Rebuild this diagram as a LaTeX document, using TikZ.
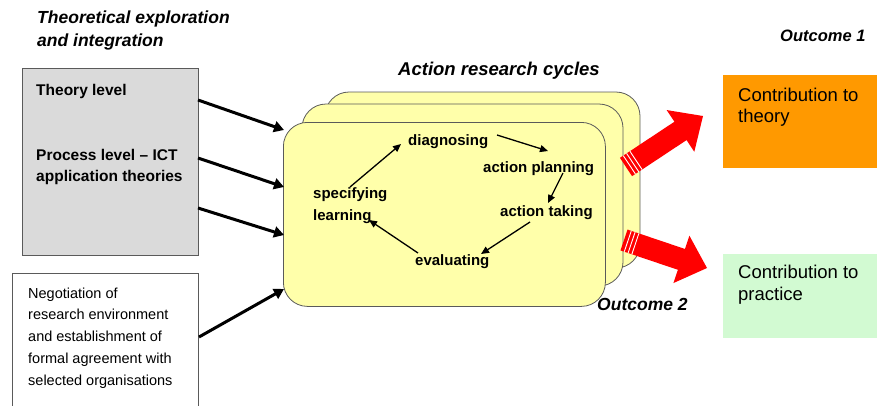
\documentclass[tikz,border=0pt]{standalone}
\usepackage{fontspec}
\setmainfont{Liberation Sans}
\usetikzlibrary{calc,arrows.meta}
\definecolor{cardyellow}{RGB}{255,255,170}
\definecolor{cardedge}{RGB}{90,90,90}
\definecolor{boxgray}{RGB}{218,218,218}
\definecolor{outorange}{RGB}{255,153,0}
\definecolor{outgreen}{RGB}{210,250,210}
\definecolor{outred}{RGB}{255,0,0}
\newcommand\redblockarrow[2]{%
  \coordinate (#1-hb) at ($(#2)!27pt!(#1)$);
  \fill[outred] ($(#1)!11pt!90:(#2)$) -- ($(#1-hb)!11pt!90:(#2)$) -- ($(#1-hb)!25pt!90:(#2)$) -- (#2)
     -- ($(#1-hb)!25pt!-90:(#2)$) -- ($(#1-hb)!11pt!-90:(#2)$) -- ($(#1)!11pt!-90:(#2)$) -- cycle;
  \foreach \dd in {4,8,12}{%
    \coordinate (#1-s) at ($(#1)!\dd pt!(#2)$);
    \draw[white, line width=0.9pt] ($(#1-s)!11pt!90:(#2)$) -- ($(#1-s)!11pt!-90:(#2)$);
  }%
}
\begin{document}
\begin{tikzpicture}[x=1pt,y=-1pt,
  card/.style={draw=cardedge, line width=0.8pt, fill=cardyellow, rounded corners=24pt},
  ttl/.style={font=\fontsize{16.5}{23}\selectfont\bfseries\itshape, anchor=base west, inner sep=0pt, align=left},
  boxlbl/.style={font=\fontsize{15.5}{21}\selectfont\bfseries, anchor=base west, inner sep=0pt, align=left},
  cyc/.style={font=\fontsize{15}{22}\selectfont\bfseries, anchor=base west, inner sep=0pt, align=left},
  thick arrow/.style={line width=3pt, -{Triangle[length=10pt,width=11pt]}},
  thin arrow/.style={line width=1.3pt, -{Triangle[length=8pt,width=7pt]}},
]
\useasboundingbox (0,0) rectangle (879,405);

% titles (multi-line nodes: base = last line)
\node[ttl, font=\fontsize{17.5}{23}\selectfont\bfseries\itshape] (t1) at (37,46) {Theoretical exploration\\and integration};
\node[ttl, font=\fontsize{18.5}{23}\selectfont\bfseries\itshape] (t2) at (398,75) {Action research cycles};
\node[ttl] (t3) at (780,41) {Outcome 1};
\node[ttl, font=\fontsize{17.5}{23}\selectfont\bfseries\itshape] (t4) at (597,310) {Outcome 2};

% left boxes
\node[draw=cardedge, line width=1pt, fill=boxgray, minimum width=176pt, minimum height=187pt, anchor=north west, inner sep=0pt] (gray) at (22,68) {};
\node[boxlbl] (th) at (36,95) {Theory level};
\node[boxlbl] (pr) at (36,181) {Process level -- ICT\\application theories};

\node[draw=cardedge, line width=1pt, fill=white, minimum width=186pt, minimum height=140pt, anchor=north west, inner sep=0pt] (neg) at (12,273) {};
\node[font=\fontsize{14.5}{21.7}\selectfont, anchor=base west, inner sep=0pt, align=left] (negt) at (28,385)
  {Negotiation of\\research environment\\and establishment of\\formal agreement with\\selected organisations};

% cards
\draw[card] (325,92) rectangle (640,268);
\draw[card] (302,104) rectangle (623,286);
\node[card, minimum width=322pt, minimum height=184pt, anchor=north west, inner sep=0pt] (front) at (283,122) {};

% cycle labels
\node[cyc] (diag) at (408,145) {diagnosing};
\node[cyc] (plan) at (483,172) {action planning};
\node[cyc] (take) at (500,216) {action taking};
\node[cyc] (eval) at (415,265) {evaluating};
\node[cyc] (spec) at (313,220) {specifying\\learning};

% cycle arrow end points
\coordinate (c1a) at (497,135); \coordinate (c1b) at (548,151);
\coordinate (c2a) at (563,173); \coordinate (c2b) at (548,203);
\coordinate (c3a) at (530,222); \coordinate (c3b) at (481,254);
\coordinate (c4a) at (418,253); \coordinate (c4b) at (369,220);
\coordinate (c5a) at (350,187); \coordinate (c5b) at (401,144);
\draw[thin arrow] (c1a) -- (c1b);
\draw[thin arrow] (c2a) -- (c2b);
\draw[thin arrow] (c3a) -- (c3b);
\draw[thin arrow] (c4a) -- (c4b);
\draw[thin arrow] (c5a) -- (c5b);

% input arrows
\coordinate (i1a) at (198,100); \coordinate (i1b) at (284,130);
\coordinate (i2a) at (198,158); \coordinate (i2b) at (284,187);
\coordinate (i3a) at (198,208); \coordinate (i3b) at (284,235);
\coordinate (i4a) at (199,337); \coordinate (i4b) at (284,289);
\draw[thick arrow] (i1a) -- (i1b);
\draw[thick arrow] (i2a) -- (i2b);
\draw[thick arrow] (i3a) -- (i3b);
\draw[thick arrow] (i4a) -- (i4b);

% outcome boxes
\node[fill=outorange, minimum width=154pt, minimum height=93pt, anchor=north west, inner sep=0pt] (orng) at (723,75) {};
\node[font=\fontsize{18.5}{21}\selectfont, anchor=base west, inner sep=0pt, align=left] (orngt) at (738,122) {Contribution to\\theory};
\node[fill=outgreen, minimum width=154pt, minimum height=84pt, anchor=north west, inner sep=0pt] (grn) at (723,254) {};
\node[font=\fontsize{18.5}{22}\selectfont, anchor=base west, inner sep=0pt, align=left] (grnt) at (738,300) {Contribution to\\practice};

% red block arrows
\coordinate (r1) at (626,167); \coordinate (r1t) at (703,116);
\coordinate (r2) at (624,240); \coordinate (r2t) at (707,268);
\redblockarrow{r1}{r1t}
\redblockarrow{r2}{r2t}
\end{tikzpicture}
\end{document}
